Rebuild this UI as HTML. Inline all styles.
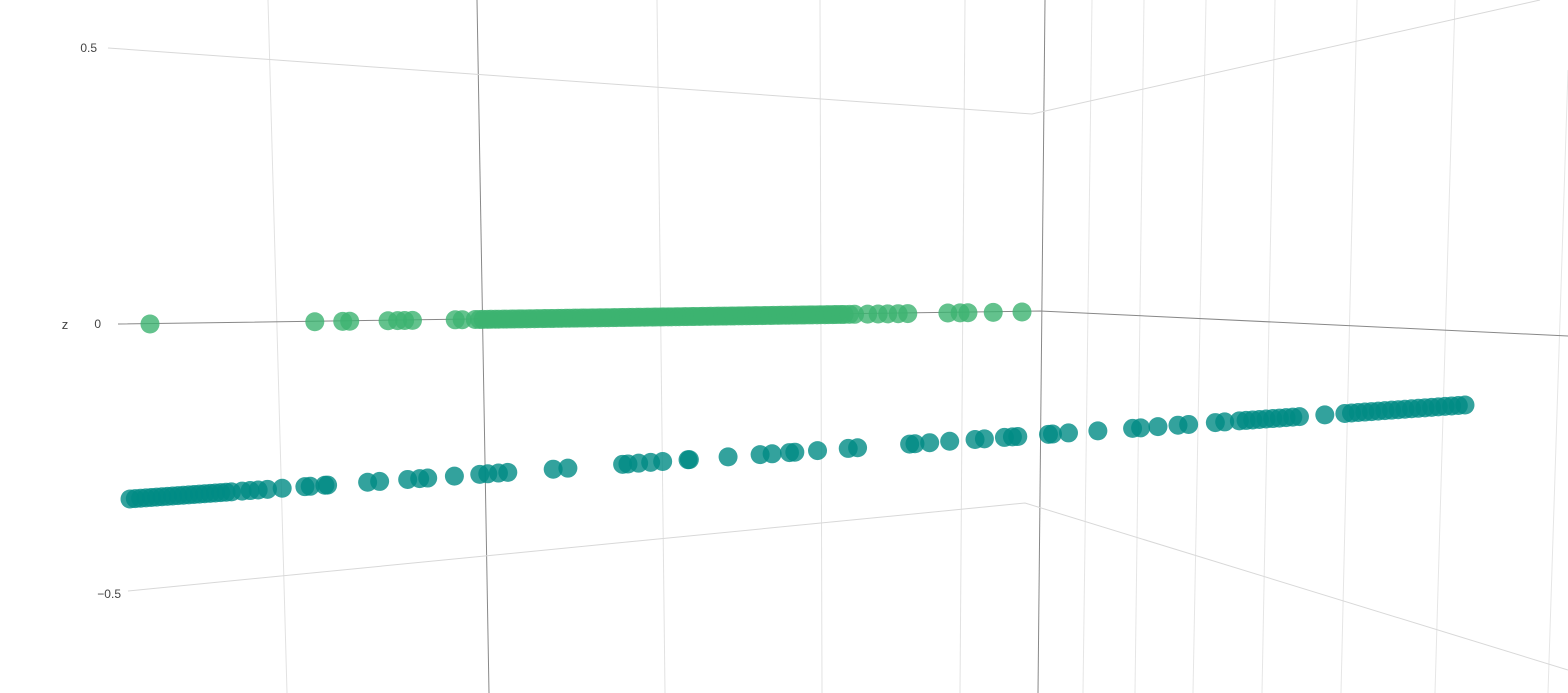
<!DOCTYPE html>
<html><head><meta charset="utf-8">
<style>
html,body{margin:0;padding:0;background:#fff;}
svg{display:block;font-family:"Liberation Sans",sans-serif;}
</style></head>
<body>
<svg id="chart" width="1568" height="693" viewBox="0 0 1568 693">
<g id="grid" fill="none"></g>
<g id="axes">
  <text x="65" y="329" font-size="13" fill="#444" text-anchor="middle">z</text>
</g>
<g id="pts-teal"></g>
<g id="pts-green"></g>
</svg>
<script>
// Green series: position along x (0..100 units)
const greenX = [0,18.9,22.1,22.9,27.3,28.4,29.2,30.1,35.0,35.8,
37.3,37.8,38.2,38.7,39.1,39.6,40.0,40.5,40.9,41.4,41.8,42.3,42.7,43.2,43.6,44.1,44.5,45.0,45.4,45.9,46.3,46.8,47.2,47.7,48.1,48.6,49.0,49.5,49.9,50.4,50.8,51.3,51.7,52.2,52.6,53.1,53.5,54.0,54.4,54.9,55.3,55.8,56.2,56.7,57.1,57.6,58.0,58.5,58.9,59.4,59.8,60.3,60.7,61.2,61.6,62.1,62.5,63.0,63.4,63.9,64.3,64.8,65.2,65.7,66.1,66.6,67.0,67.5,67.9,68.4,68.8,69.3,69.7,70.2,70.6,71.1,71.5,72.0,72.4,72.9,73.3,73.8,74.2,74.7,75.1,75.6,76.0,76.5,76.9,77.4,77.8,78.3,78.7,79.2,79.6,80.2,80.8,
82.3,83.5,84.6,85.8,86.9,91.5,92.9,93.8,96.7,100];
// Teal series: position along x (0..100 units)
const tealX = [0,0.4,0.8,1.2,1.6,2.0,2.4,2.8,3.2,3.6,4.0,4.4,4.8,5.2,5.6,6.0,6.4,6.8,7.2,7.6,8.4,9.0,9.6,10.3,11.4,13.1,13.5,14.6,14.8,17.8,18.7,20.8,21.7,22.3,24.3,26.2,26.8,27.6,28.3,31.7,32.8,36.9,37.3,38.1,39.0,39.9,41.8,41.9,44.8,47.2,48.1,49.4,49.8,51.5,53.8,54.5,58.4,58.8,59.9,61.4,63.3,64.0,65.5,66.1,66.5,68.8,69.1,70.3,72.5,75.1,75.7,77.0,78.5,79.3,81.3,82.0,
83.1,83.6,84.1,84.6,85.1,85.6,86.1,86.6,87.1,87.6,89.5,
91.0,91.5,92.0,92.5,93.0,93.5,94.0,94.5,95.0,95.5,96.0,96.5,97.0,97.5,98.0,98.5,99.0,99.5,100];
// z tick labels
const zTicks = ["0.5","0","\u22120.5"];
const zTickVals = [0.5,0,-0.5];

const NS="http://www.w3.org/2000/svg";
function mk(tag,attrs,parent){const e=document.createElementNS(NS,tag);for(const k in attrs)e.setAttribute(k,attrs[k]);parent.appendChild(e);return e;}
// axis functions
function greenPos(v){return [150+v*8.72, 324-v*0.12];}
function tealPos(v){return [130+v*13.35, 499-v*0.94];}
function zLabelY(z){return z>0?324-z*2*276:(z<0?324-z*2*270:324);}
function zLabelX(z){return z>0?101-z*8:101-z*40;}

const grid=document.getElementById('grid');
const lines=[
 [268,0,287,693,'#e2e2e2'],[477,0,489,693,'#888'],[657,0,665,693,'#e2e2e2'],[820,0,822,693,'#e2e2e2'],[965,0,960,693,'#e2e2e2'],
 [1045,0,1038,693,'#888'],[1092,0,1083,693,'#e6e6e6'],[1144,0,1135,693,'#e6e6e6'],[1206,0,1193,693,'#e6e6e6'],[1275,0,1262,693,'#e6e6e6'],
 [1357,0,1341,693,'#e6e6e6'],[1455,0,1435,693,'#e6e6e6'],[1568,70,1548,693,'#e6e6e6']
];
lines.forEach(l=>{const e=mk('line',{x1:l[0],y1:l[1],x2:l[2],y2:l[3],stroke:l[4],'stroke-width':1},grid);

});
const polys=[
 ['108,48 1032,114 1540,0','#d8d8d8'],
 ['118,324 1040,311 1568,336','#888'],
 ['128,591 1025,503 1568,670','#d8d8d8']
];
polys.forEach(p=>{const e=mk('polyline',{points:p[0],stroke:p[1],'stroke-width':1},grid);

});

const axes=document.getElementById('axes');
zTicks.forEach((t,i)=>{const y=zLabelY(zTickVals[i]);
 const e=mk('text',{x:zLabelX(zTickVals[i]),y:y+4,'font-size':12,fill:'#444','text-anchor':'end'},axes);e.textContent=t;
 
 });

const gt=document.getElementById('pts-teal');
tealX.forEach(v=>{const [x,y]=tealPos(v);
 const c=mk('circle',{cx:x,cy:y,r:9.5,fill:'#008b84','fill-opacity':0.8},gt);
 
 });
const gg=document.getElementById('pts-green');
greenX.forEach(v=>{const [x,y]=greenPos(v);
 const c=mk('circle',{cx:x,cy:y,r:9.5,fill:'#3cb371','fill-opacity':0.8},gg);
 
 });
</script>
</body></html>
